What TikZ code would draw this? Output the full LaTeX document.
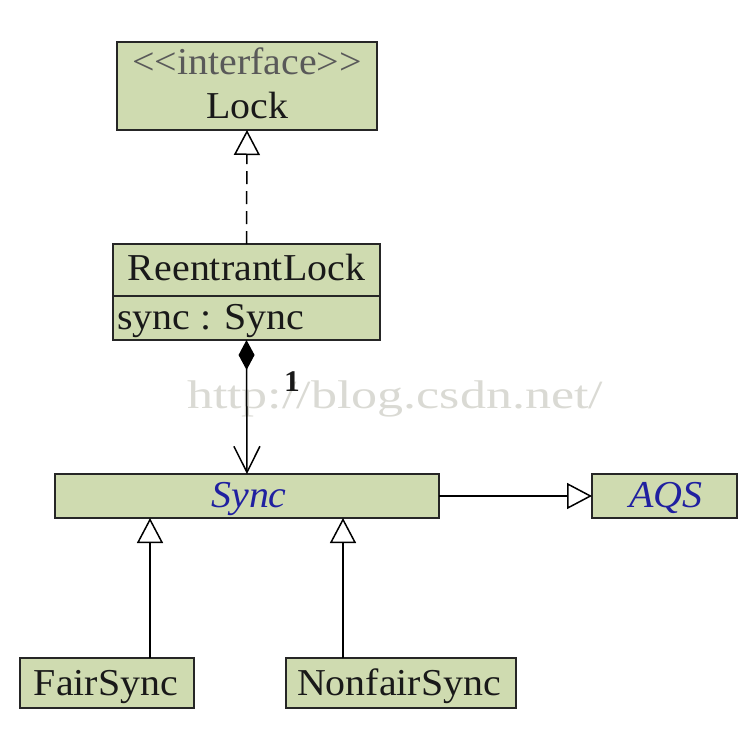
\documentclass[tikz,border=0pt]{standalone}
\usepackage{fontspec}
\newfontfamily\umlfont{Liberation Serif}[FakeStretch=1.05]
\newfontfamily\wmfont{Liberation Serif}[FakeStretch=1.3]
\usetikzlibrary{arrows.meta}
\definecolor{boxfill}{RGB}{207,219,176}
\definecolor{umlblue}{RGB}{32,32,160}
\definecolor{wmgray}{RGB}{218,218,212}
\begin{document}
\begin{tikzpicture}[x=1pt,y=-1pt,
  box/.style={draw=black!85, line width=2pt, fill=boxfill, inner sep=0pt, outer sep=0pt},
  txt/.style={font=\umlfont\fontsize{38}{42}\selectfont, inner sep=0pt, anchor=base, text=black!90},
  conn/.style={line width=1.5pt, draw=black},
  opentri/.style={-{Triangle[open, length=25pt, width=26pt, fill=white, line width=1.5pt]}}
]
\useasboundingbox (0,0) rectangle (746,750);
\fill[white] (0,0) rectangle (746,750);

% watermark
\node[inner sep=0pt, anchor=base, text=wmgray, font=\wmfont\fontsize{40}{44}\selectfont] (wmark) at (395,408) {http://blog.csdn.net/};

% boxes
\node[box, minimum width=260pt, minimum height=88pt] (lock) at (247,86) {};
\node[box, minimum width=267pt, minimum height=52pt] (rl) at (246.5,270) {};
\node[box, minimum width=267pt, minimum height=44pt] (rlattr) at (246.5,318) {};
\node[box, minimum width=384pt, minimum height=44pt] (sync) at (247,496) {};
\node[box, minimum width=145pt, minimum height=44pt] (aqs) at (664.5,496) {};
\node[box, minimum width=174pt, minimum height=50pt] (fair) at (107,683) {};
\node[box, minimum width=230pt, minimum height=50pt] (nonfair) at (401,683) {};

% texts
\node[txt, text=black!65] (lockst) at (247,74) {<<interface>>};
\node[txt] (lockname) at (247,118) {Lock};
\node[txt] (rlname) at (246.5,280) {ReentrantLock};
\node[txt, anchor=base west] (rlattrtxt) at (117,329) {sync : Sync};
\node[txt, text=umlblue, font=\umlfont\itshape\fontsize{38}{42}\selectfont] (syncname) at (249,507) {Sync};
\node[txt, text=umlblue, font=\umlfont\itshape\fontsize{38}{42}\selectfont] (aqsname) at (666,507) {AQS};
\node[txt] (fairname) at (106,695) {FairSync};
\node[txt] (nonfairname) at (399,695) {NonfairSync};
\node[txt, font=\umlfont\bfseries\fontsize{30}{34}\selectfont] (mult) at (292,391) {1};

% connectors
\draw[conn, dash pattern=on 13pt off 7pt, opentri] (rl.north) -- (lock.south);
\draw[conn, {Diamond[length=30pt, width=16pt]}-{Straight Barb[length=26pt, width=26pt, line width=1.5pt]}] (rlattr.south) -- (sync.north);
\draw[conn, opentri] (sync.east) -- (aqs.west);
\coordinate (fx) at (150,600);
\coordinate (nx) at (343,600);
\draw[conn, opentri] (fair.north -| fx) -- (sync.south -| fx);
\draw[conn, opentri] (nonfair.north -| nx) -- (sync.south -| nx);
\end{tikzpicture}
\end{document}
